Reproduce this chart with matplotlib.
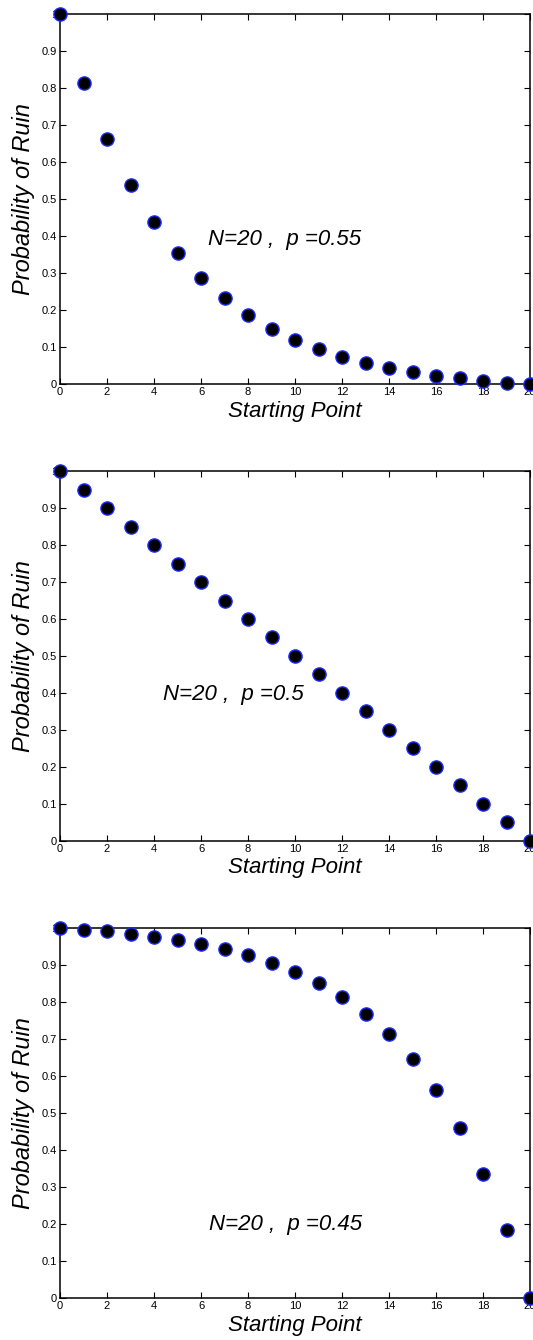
import numpy as np
import matplotlib
matplotlib.use("Agg")
import matplotlib.pyplot as plt

plt.rcParams['font.family'] = ['Liberation Sans', 'DejaVu Sans']

# Starting points 0..20
start = list(range(21))

# Probability of ruin, one list per panel
ruin_055 = [1.0, 0.815, 0.663, 0.539, 0.438, 0.355, 0.287, 0.232, 0.186, 0.149,
            0.119, 0.094, 0.073, 0.057, 0.043, 0.032, 0.023, 0.015, 0.009, 0.004, 0.0]
ruin_050 = [1.0, 0.95, 0.90, 0.85, 0.80, 0.75, 0.70, 0.65, 0.60, 0.55,
            0.50, 0.45, 0.40, 0.35, 0.30, 0.25, 0.20, 0.15, 0.10, 0.05, 0.0]
ruin_045 = [1.0, 0.996, 0.991, 0.985, 0.977, 0.968, 0.957, 0.943, 0.927, 0.906,
            0.881, 0.851, 0.814, 0.768, 0.713, 0.645, 0.562, 0.460, 0.336, 0.185, 0.0]

labels = ["N=20 ,  p =0.55", "N=20 ,  p =0.5", "N=20 ,  p =0.45"]
label_pos = [(9.57, 0.392), (7.36, 0.395), (9.6, 0.198)]

fig = plt.figure(figsize=(5.33, 13.4), dpi=100)
bottoms = [0.7134, 0.3724, 0.0313]

for k, ys in enumerate([ruin_055, ruin_050, ruin_045]):
    ax = fig.add_axes([0.1126, bottoms[k], 0.8818, 0.2761])
    ax.plot(start, ys, "o", markersize=9.5, markerfacecolor="black",
            markeredgecolor="#1a2bff", markeredgewidth=1.0, clip_on=False, zorder=5)
    ax.set_xlim(0, 20)
    ax.set_ylim(0, 1)
    ax.set_xticks(np.arange(0, 21, 2))
    ax.set_yticks(np.arange(0, 1.01, 0.1))
    ax.set_yticklabels(["0"] + [f"{v:.1f}" for v in np.arange(0.1, 0.95, 0.1)] + ["1"])
    ax.tick_params(direction="in", top=True, right=True, labelsize=8, length=4,
                   width=0.8, pad=2)
    for s in ax.spines.values():
        s.set_linewidth(1.1)
    ax.set_xlabel("Starting Point", fontsize=16, style="italic", va="center")
    ax.xaxis.set_label_coords(0.5, -27 / 370)
    ax.set_ylabel("Probability of Ruin", fontsize=17, style="italic", va="center")
    ax.yaxis.set_label_coords(-37 / 470, 0.5)
    tx, ty = label_pos[k]
    ax.text(tx, ty, labels[k], fontsize=16, style="italic", ha="center", va="center")

fig.savefig("out.png", dpi=100)
